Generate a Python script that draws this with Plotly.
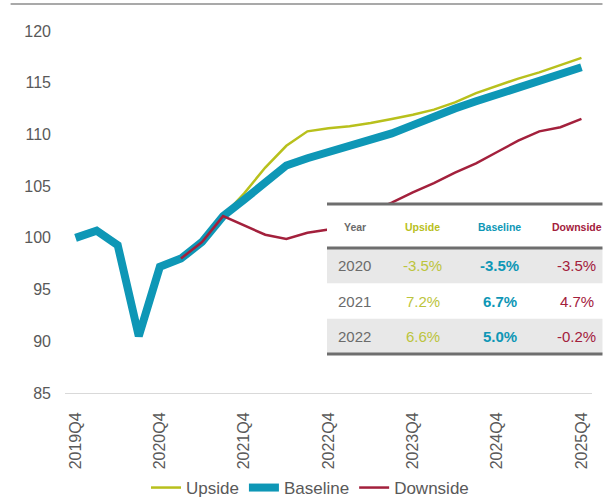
import plotly.graph_objects as go

# Quarterly index, 2019Q4 = 100
quarters = ["2019Q4", "2020Q1", "2020Q2", "2020Q3", "2020Q4",
            "2021Q1", "2021Q2", "2021Q3", "2021Q4",
            "2022Q1", "2022Q2", "2022Q3", "2022Q4",
            "2023Q1", "2023Q2", "2023Q3", "2023Q4",
            "2024Q1", "2024Q2", "2024Q3", "2024Q4",
            "2025Q1", "2025Q2", "2025Q3", "2025Q4"]

baseline = [100.0, 100.7, 99.3, 90.5, 97.2,
            98.0, 99.6, 102.1, 103.7,
            105.4, 107.0, 107.7, 108.3,
            108.8, 109.3, 110.1, 110.9,
            111.8, 112.5, 113.2, 113.9,
            114.5, 115.2, 115.9, 116.5]

upside = [None, None, None, None, None,
          98.0, 99.6, 102.1, 104.3,
          106.8, 108.9, 110.3, 110.6,
          110.8, 111.1, 111.5, 111.9,
          112.4, 113.1, 114.0, 114.7,
          115.4, 116.0, 116.7, 117.4]

downside = [None, None, None, None, None,
            98.0, 99.6, 102.1, 101.2,
            100.3, 99.9, 100.5, 100.8,
            101.6, 102.5, 103.4, 104.4,
            105.3, 106.3, 107.2, 108.3,
            109.4, 110.3, 110.7, 111.5]

tick_quarters = ["2019Q4", "2020Q4", "2021Q4", "2022Q4", "2023Q4", "2024Q4", "2025Q4"]

# Annual growth summary table
table_years = ["2020", "2021", "2022"]
growth_upside = [-3.5, 7.2, 6.6]
growth_baseline = [-3.5, 6.7, 5.0]
growth_downside = [-3.5, 4.7, -0.2]

C_UP = "#b8c01c"
C_BASE = "#0e97b6"
C_DOWN = "#a3203c"
C_TEXT = "#595959"
FONT = "Liberation Sans, Arial, sans-serif"

W, H = 603, 500
L, R, T, B = 64.5, 592.5, 31, 393


def fx(p):
    return (p - L) / (R - L)


def fy(p):
    return (B - p) / (B - T)


fig = go.Figure()
fig.add_trace(go.Scatter(x=quarters, y=upside, name="Upside", mode="lines",
                         line=dict(color=C_UP, width=2.5)))
fig.add_trace(go.Scatter(x=quarters, y=baseline, name="Baseline", mode="lines",
                         line=dict(color=C_BASE, width=8)))
fig.add_trace(go.Scatter(x=quarters, y=downside, name="Downside", mode="lines",
                         line=dict(color=C_DOWN, width=2.5)))

shapes = []
annotations = []

# rule across the top of the panel
shapes.append(dict(type="line", xref="paper", yref="paper",
                   x0=fx(10), x1=fx(603), y0=fy(4), y1=fy(4),
                   line=dict(color="#8c8c8c", width=1.5)))

# table panel
tx0, tx1 = 327, 603
ty_top, ty_head, ty_end = 204, 248, 354
row_h = (ty_end - ty_head) / len(table_years)
shapes.append(dict(type="rect", xref="paper", yref="paper", layer="above",
                   x0=fx(tx0), x1=fx(tx1), y0=fy(ty_end), y1=fy(ty_top),
                   fillcolor="white", line=dict(width=0)))
for i in range(len(table_years)):
    if i % 2 == 0:
        r0 = ty_head + i * row_h
        shapes.append(dict(type="rect", xref="paper", yref="paper", layer="above",
                           x0=fx(tx0), x1=fx(tx1), y0=fy(r0 + row_h), y1=fy(r0),
                           fillcolor="#e8e8e8", line=dict(width=0)))
for yl in (ty_top, ty_head, ty_end):
    shapes.append(dict(type="line", xref="paper", yref="paper", layer="above",
                       x0=fx(tx0), x1=fx(tx1), y0=fy(yl), y1=fy(yl),
                       line=dict(color="#6e6e6e", width=3)))

col_x = [355, 423, 500, 577]
headers = ["Year", "Upside", "Baseline", "Downside"]
head_colors = ["#6b6b6b", C_UP, C_BASE, C_DOWN]
for cx, h, c in zip(col_x, headers, head_colors):
    annotations.append(dict(xref="paper", yref="paper", x=fx(cx), y=fy(227),
                            text=f"<b>{h}</b>", showarrow=False,
                            xanchor="center", yanchor="middle",
                            font=dict(family=FONT, size=10.5, color=c)))

cols = [
    ([str(y) for y in table_years], "#6b6b6b", False),
    ([f"{v:.1f}%" for v in growth_upside], "#bcc43c", False),
    ([f"{v:.1f}%" for v in growth_baseline], C_BASE, True),
    ([f"{v:.1f}%" for v in growth_downside], C_DOWN, False),
]
for cx, (vals, c, bold) in zip(col_x, cols):
    for i, v in enumerate(vals):
        cy = ty_head + (i + 0.5) * row_h
        annotations.append(dict(xref="paper", yref="paper", x=fx(cx), y=fy(cy),
                                text=f"<b>{v}</b>" if bold else v, showarrow=False,
                                xanchor="center", yanchor="middle",
                                font=dict(family=FONT, size=15, color=c)))

fig.update_layout(
    width=W, height=H,
    margin=dict(l=L, r=W - R, t=T, b=H - B, pad=0, autoexpand=False),
    paper_bgcolor="white", plot_bgcolor="white",
    font=dict(family=FONT, size=17, color=C_TEXT),
    showlegend=True,
    legend=dict(orientation="h", xref="container", yref="container",
                x=310 / W, xanchor="center", y=(H - 488) / H, yanchor="middle",
                font=dict(family=FONT, size=17, color=C_TEXT),
                itemwidth=30, tracegroupgap=0),
    xaxis=dict(type="category", categoryorder="array", categoryarray=quarters,
               range=[-0.5, len(quarters) - 0.5], automargin=False,
               tickmode="array", tickvals=tick_quarters, ticktext=tick_quarters,
               tickangle=-90, showgrid=False, zeroline=False,
               showline=True, linecolor="#d9d9d9", linewidth=1, ticks="",
               ticklabelstandoff=12,
               tickfont=dict(family=FONT, size=16, color=C_TEXT)),
    yaxis=dict(range=[85, 120], tickvals=[85, 90, 95, 100, 105, 110, 115, 120],
               automargin=False,
               showgrid=False, zeroline=False, showline=False, ticks="",
               ticklabelstandoff=13,
               tickfont=dict(family=FONT, size=16, color=C_TEXT)),
    shapes=shapes,
    annotations=annotations,
)

fig.write_html("out.html")
